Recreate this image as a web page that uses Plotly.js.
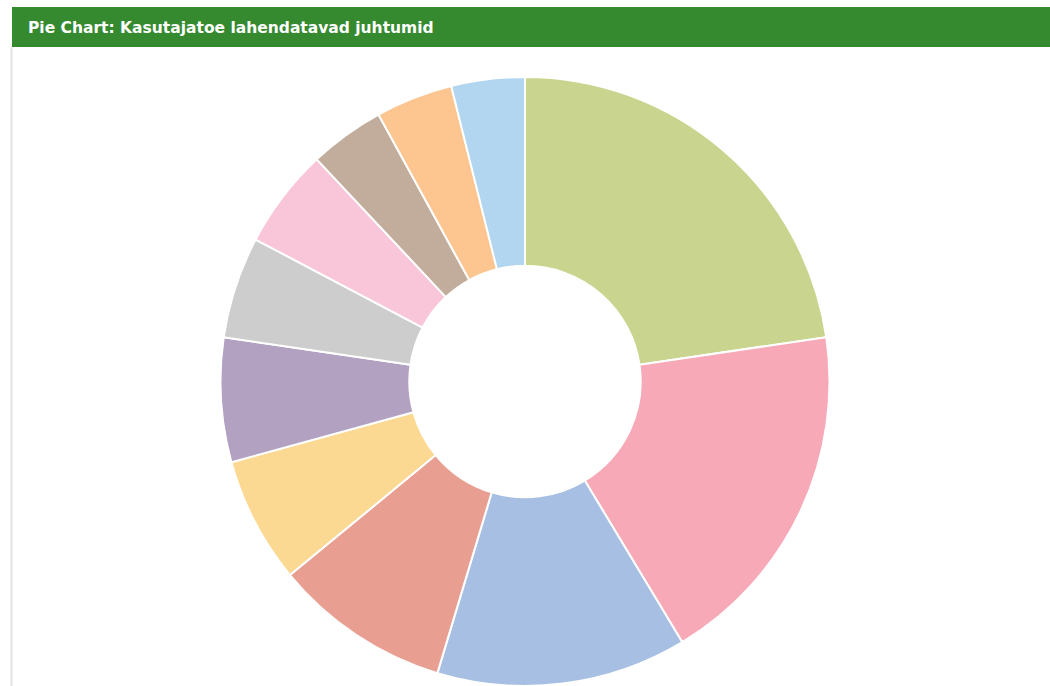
<!DOCTYPE html>
<html>
<head>
<meta charset="utf-8">
<script src="https://cdn.plot.ly/plotly-3.0.1.min.js"></script>
<style>
html,body{margin:0;padding:0;background:#fff;}
#chart{width:1050px;height:686px;}
</style>
</head>
<body>
<div id="chart"></div>
<script>
const titleText = "Pie Chart: Kasutajatoe lahendatavad juhtumid";
const categories = ["Juhtum 1","Juhtum 2","Juhtum 3","Juhtum 4","Juhtum 5","Juhtum 6","Juhtum 7","Juhtum 8","Juhtum 9","Juhtum 10","Juhtum 11"];
const values = [22.7, 18.7, 13.3, 9.4, 6.7, 6.6, 5.4, 5.3, 4.0, 4.1, 3.9];
const colors = ["#c9d48e","#f7a9b7","#a7bfe3","#e89f92","#fcd993","#b2a1c0","#cdcdcd","#f9c6d9","#c2ad9c","#fdc58f","#b2d6f0"];

const W = 1050, H = 686;
const trace = {
  type: "pie",
  labels: categories,
  values: values,
  sort: false,
  direction: "clockwise",
  rotation: 0,
  hole: 0.38,
  textinfo: "none",
  hoverinfo: "label+percent",
  marker: {colors: colors, line: {color: "#ffffff", width: 2}},
  domain: {x: [(525-306)/W, (525+306)/W], y: [0, 1 - 77/H]},
  showlegend: false
};
const layout = {
  width: W, height: H,
  margin: {l: 0, r: 0, t: 0, b: 0},
  paper_bgcolor: "#ffffff",
  showlegend: false,
  shapes: [
    {type: "rect", xref: "paper", yref: "paper", x0: 12/W, x1: 1, y0: 1 - 47/H, y1: 1 - 7/H, fillcolor: "#358a2f", line: {width: 0}, layer: "below"},
    {type: "line", xref: "paper", yref: "paper", x0: 11.5/W, x1: 11.5/W, y0: 0, y1: 1 - 47/H, line: {color: "#e3e3e3", width: 2}}
  ],
  annotations: [
    {text: "<b>" + titleText + "</b>", xref: "paper", yref: "paper", x: 26/W, y: 1 - 28/H, xanchor: "left", yanchor: "middle", showarrow: false,
     font: {family: "DejaVu Sans, Verdana, sans-serif", size: 15.5, color: "#ffffff"}}
  ]
};
Plotly.newPlot("chart", [trace], layout, {displayModeBar: false, staticPlot: true});
</script>
</body>
</html>
